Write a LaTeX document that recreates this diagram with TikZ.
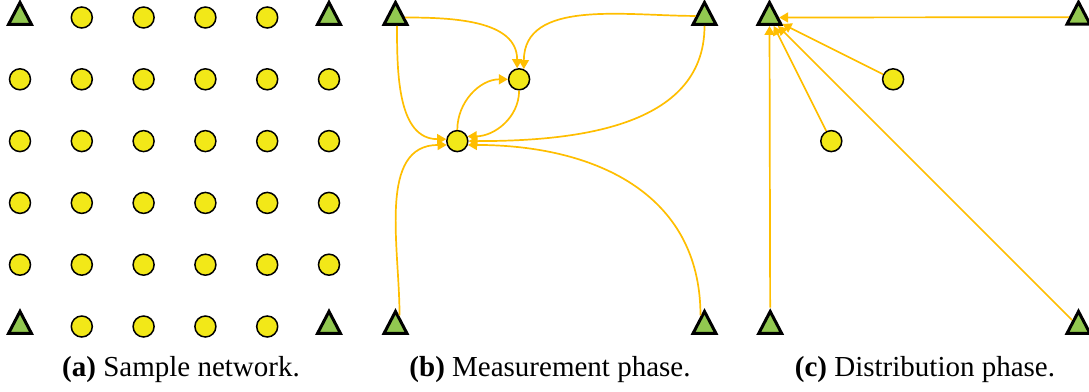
\documentclass[tikz,border=0pt]{standalone}
\usepackage{fontspec}
\setmainfont{Liberation Serif}
\usetikzlibrary{shapes.geometric, arrows.meta, positioning}
\definecolor{beacongreen}{RGB}{146,200,80}
\definecolor{sensoryellow}{RGB}{242,232,24}
\definecolor{linkorange}{RGB}{255,190,0}

\begin{document}
\begin{tikzpicture}[x=1pt, y=-1pt,
    sensor/.style={circle, draw=black, fill=sensoryellow, line width=1.5pt, minimum size=21pt, inner sep=0pt},
    beacon/.style={isosceles triangle, isosceles triangle stretches, shape border rotate=90, draw=black, fill=beacongreen, line width=3pt, minimum width=23pt, minimum height=22pt, inner sep=0pt},
    link/.style={-{Triangle[length=9pt, width=10pt]}, linkorange, line width=1.7pt},
    caption/.style={font=\fontsize{29}{34}\selectfont, anchor=base}
]
\useasboundingbox (0,0) rectangle (1089,391);

% (a) sample network: beacons in the corners, sensors elsewhere
\foreach \i in {0,...,5}
  \foreach \j in {0,...,5} {
    \pgfmathtruncatemacro\corner{(\i==0 || \i==5) && (\j==0 || \j==5)}
    \ifnum\corner=1
      \node[beacon] (a-\i-\j) at ({20+61.8*\i}, {17.5+61.8*\j}) {};
    \else
      \node[sensor] (a-\i-\j) at ({20+61.8*\i}, {17.5+61.8*\j}) {};
    \fi
  }

% (b) measurement phase
\node[beacon] (b-tl) at (395.5,17.5) {};
\node[beacon] (b-tr) at (704.5,17.5) {};
\node[beacon] (b-bl) at (395.5,326.5) {};
\node[beacon] (b-br) at (704.5,326.5) {};
\node[sensor] (b-s1) at (519.1,79.3) {};
\node[sensor] (b-s2) at (457.3,141.1) {};

\draw[link] (b-tl) to[out=0, in=90] (b-s1.100);
\draw[link] (b-tr.170) to[out=180, in=90] (b-s1.65);
\draw[link] (b-s2) to[out=90, in=180] (b-s1);
\draw[link] (b-tl.-80) to[out=-90, in=180] (b-s2.170);
\draw[link] (b-bl.70) to[out=90, in=180] (b-s2.200);
\draw[link] (b-s1) to[out=-90, in=0] (b-s2.25);
\draw[link] (b-tr) to[out=-90, in=0] (b-s2);
\draw[link] (b-br.110) to[out=90, in=0, looseness=1.1] (b-s2.-20);

% (c) distribution phase
\node[beacon] (c-tl) at (769.5,17.5) {};
\node[beacon] (c-tr) at (1078.5,17.2) {};
\node[beacon] (c-bl) at (770.2,326.5) {};
\node[beacon] (c-br) at (1078.5,326.5) {};
\node[sensor] (c-s1) at (893.1,79.3) {};
\node[sensor] (c-s2) at (831.3,141.1) {};

\draw[link] (c-tr) -- (c-tl);
\draw[link] (c-s1) -- (c-tl);
\draw[link] (c-s2) -- (c-tl);
\draw[link] (c-br) -- (c-tl);
\draw[link] (c-bl) -- (c-tl);

% captions
\node[caption] (cap-a) at (181,376) {\textbf{(a)} Sample network.};
\node[caption] (cap-b) at (550,376) {\textbf{(b)} Measurement phase.};
\node[caption] (cap-c) at (925,376) {\textbf{(c)} Distribution phase.};
\end{tikzpicture}
\end{document}
